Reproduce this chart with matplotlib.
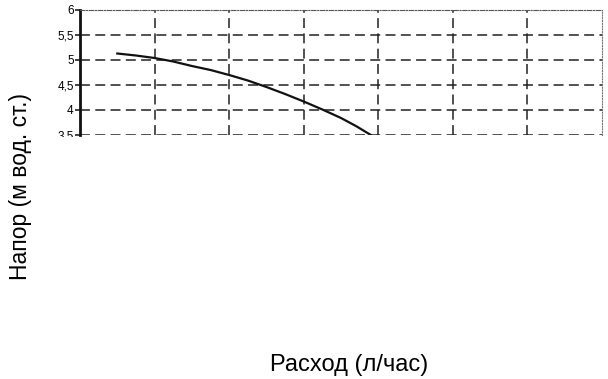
import matplotlib
matplotlib.use('Agg')
import matplotlib.pyplot as plt
import matplotlib.patches as patches
from matplotlib.ticker import FuncFormatter

# Pump curve (flow in l/h, head in m)
flow = [250, 375, 500, 625, 750, 875, 1000, 1125, 1250, 1375, 1500, 1625, 1750, 1850, 1950]
head = [5.13, 5.09, 5.04, 4.97, 4.88, 4.80, 4.70, 4.59, 4.46, 4.32, 4.17, 4.01, 3.84, 3.68, 3.50]
y_ticks = [3.5, 4, 4.5, 5, 5.5, 6]
x_grid = [0, 500, 1000, 1500, 2000, 2500, 3000, 3500]

plt.rcParams['font.family'] = ['Liberation Sans', 'DejaVu Sans']

fig = plt.figure(figsize=(6.08, 3.79), dpi=100)
W, H = 608, 379
ax = fig.add_axes([80 / W, 1 - 135 / H, 522 / W, 125 / H])

ax.plot(flow, head, color='#111111', linewidth=1.6, zorder=3)

ax.set_xlim(x_grid[0], x_grid[-1])
ax.set_ylim(3.5, 6)
ax.set_xticks(x_grid)
ax.set_yticks(y_ticks)
ax.yaxis.set_major_formatter(FuncFormatter(lambda v, p: f'{v:g}'.replace('.', ',')))
ax.tick_params(axis='x', length=0, labelbottom=False)
ax.tick_params(axis='y', length=3.5, width=1.2, labelsize=8.5, pad=1, color='#222222')

# dashed grid, both directions
for y in y_ticks[:-1]:
    ax.axhline(y, color='#222222', linewidth=1.1, dashes=(6.5, 3.5), zorder=1)
for x in x_grid[1:-1]:
    ax.axvline(x, color='#222222', linewidth=1.1, dashes=(6.5, 3.5), zorder=1)

ax.spines['left'].set_linewidth(2.0)
ax.spines['left'].set_color('#111111')
ax.spines['bottom'].set_visible(False)
ax.spines['top'].set_linewidth(0.8)
ax.spines['top'].set_color('#555555')
ax.spines['top'].set_linestyle((0, (4, 1.5, 1, 1.5)))
ax.spines['right'].set_linewidth(0.8)
ax.spines['right'].set_color('#777777')
ax.spines['right'].set_linestyle((0, (1, 1.5)))

# scan is cut just under the 3.5 line
fig.patches.append(patches.Rectangle((50 / W, 0), 1, 1 - 137 / H, transform=fig.transFigure,
                                     facecolor='white', edgecolor='none', zorder=1))

fig.text(21 / W, 1 - 186 / H, 'Напор (м вод. ст.)', rotation=90, ha='center', va='center',
         fontsize=16.5, zorder=3)
fig.text(349 / W, 1 - 365 / H, 'Расход (л/час)', ha='center', va='center', fontsize=17, zorder=3)

fig.savefig('out.png', dpi=100)
